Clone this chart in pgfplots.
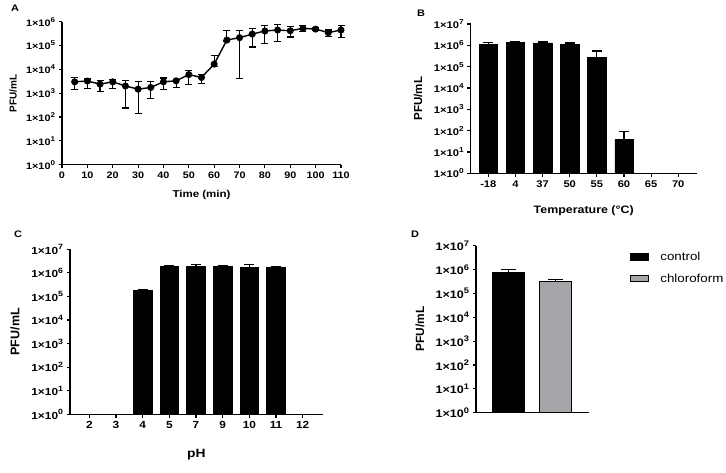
\documentclass[border=0pt]{standalone}
\usepackage{fontspec}
\setmainfont{Liberation Sans}[FakeStretch=1.15]
\newfontfamily\plainsans{Liberation Sans}
\usepackage{graphicx}
\usepackage{pgfplots}
\pgfplotsset{compat=1.18}
\definecolor{chlor}{RGB}{165,165,170}
\newcommand{\ex}[1]{1×10\raisebox{0.42em}{\scalebox{0.74}{#1}}}
\newcommand{\tf}[1]{\bfseries\fontsize{#1}{#1}\selectfont}
\newcommand{\yf}[1]{\plainsans\bfseries\fontsize{#1}{#1}\selectfont}

\pgfplotsset{
  panelstyle/.style={
    scale only axis, anchor=south west,
    axis x line*=bottom, axis y line*=left,
    axis line style={line width=1.1pt},
    every tick/.style={black, line width=1.1pt},
    tick align=outside, major tick length=3.5pt,
    ymin=1, yminorticks=false,
    ytick={1,10,100,1000,10000,100000,1000000,10000000},
    yticklabels={\ex{0},\ex{1},\ex{2},\ex{3},\ex{4},\ex{5},\ex{6},\ex{7}},
    /pgf/number format/assume math mode=true,
    ylabel={PFU/mL},
    clip=false,
  },
}

\pgfplotstableread{
t v ep em
5 3000 1500 1550
10 3240 690 1690
15 2400 1150 1200
20 3000 900 1450
25 2000 1550 1760
30 1480 1540 1340
35 1740 1280 1165
40 3000 1350 1550
45 3310 600 1570
50 6030 3300 3740
55 4570 1760 1990
60 16600 22300 3700
65 170000 247000 15000
70 214000 203000 210000
75 302000 238000 215000
80 407000 298000 287000
85 447000 298000 302000
90 417000 200000 188000
95 525000 180000 145000
100 490000 70000 45000
105 347000 100000 113000
110 447000 258000 233000
}\tabA

\pgfplotstableread{
x v ep
0 1.12e6 0.26e6
1 1.38e6 0.10e6
2 1.29e6 0.15e6
3 1.12e6 0.17e6
4 2.75e5 2.65e5
5 39 50
}\tabB

\pgfplotstableread{
x v ep
2 1.77e5 0.23e5
3 1.90e6 0.14e6
4 1.86e6 0.44e6
5 1.86e6 0.24e6
6 1.66e6 0.54e6
7 1.74e6 0.16e6
}\tabC

\begin{document}
\begin{tikzpicture}
\useasboundingbox (0pt,0pt) rectangle (726pt,472pt);

% Panel A
\begin{axis}[panelstyle, ymode=log, at={(62pt,307.3pt)}, width=279pt, height=143pt,
  xmin=0, xmax=110, xtick={0,10,...,110}, ymax=1e6,
  ticklabel style={font=\tf{9.4}},
  xlabel={Time (min)},
  xlabel style={font=\tf{10}, at={(axis description cs:0.5,0)}, anchor=center, yshift=-30.3pt},
  ylabel style={font=\yf{10}, at={(axis description cs:0,0.5)}, anchor=center, yshift=49pt},
]
\addplot[black, line width=1.4pt, mark=*, mark size=2.8pt,
  error bars/y dir=both, error bars/y explicit,
  error bars/error bar style={line width=1.1pt},
  error bars/error mark options={rotate=90, mark size=3.5pt, line width=1.1pt}]
  table[x=t, y=v, y error plus=ep, y error minus=em] {\tabA};
\end{axis}

% Panel B
\begin{axis}[panelstyle, ymode=log, at={(470.7pt,298.7pt)}, width=226pt, height=149.3pt,
  xmin=-0.65, xmax=7.68, ymax=1e7,
  xtick={0,...,7}, xticklabels={-18,4,37,50,55,60,65,70},
  ticklabel style={font=\tf{9.7}},
  xlabel={Temperature (°C)},
  xlabel style={font=\tf{10.8}, at={(axis description cs:0.5,0)}, anchor=center, yshift=-37.7pt},
  ylabel style={font=\yf{11.6}, at={(axis description cs:0,0.5)}, anchor=center, yshift=52.7pt},
]
\addplot[ybar, bar width=0.68, bar shift=0pt, fill=black, draw=black,
  error bars/y dir=plus, error bars/y explicit,
  error bars/error bar style={line width=1.1pt, black},
  error bars/error mark options={rotate=90, mark size=5pt, line width=1.1pt, black}]
  table[x=x, y=v, y error plus=ep] {\tabB};
\end{axis}

% Panel C
\begin{axis}[panelstyle, ymode=log, at={(70pt,57.7pt)}, width=252.7pt, height=165pt,
  xmin=-0.725, xmax=8.75, ymax=1e7,
  xtick={0,...,8}, xticklabels={2,3,4,5,7,9,10,11,12},
  ticklabel style={font=\tf{10.3}},
  xlabel={pH},
  xlabel style={font=\tf{12}, at={(axis description cs:0.5,0)}, anchor=center, yshift=-40.7pt},
  ylabel style={font=\yf{12.5}, at={(axis description cs:0,0.5)}, anchor=center, yshift=55pt},
]
\addplot[ybar, bar width=0.7, bar shift=0pt, fill=black, draw=black,
  error bars/y dir=plus, error bars/y explicit,
  error bars/error bar style={line width=1.1pt, black},
  error bars/error mark options={rotate=90, mark size=5pt, line width=1.1pt, black}]
  table[x=x, y=v, y error plus=ep] {\tabC};
\end{axis}

% Panel D
\begin{axis}[panelstyle, ymode=log, at={(476pt,59.3pt)}, width=113.3pt, height=167pt,
  xmin=-0.69, xmax=1.72, ymax=1e7, xtick=\empty,
  ticklabel style={font=\tf{10.9}},
  ylabel style={font=\yf{11.9}, at={(axis description cs:0,0.5)}, anchor=center, yshift=56pt},
  legend style={at={(axis description cs:1.36,0.975)}, anchor=north west,
    draw=none, fill=none, font=\fontsize{11.6}{12}\selectfont, row sep=8pt,
    inner sep=0pt, /tikz/every odd column/.append style={column sep=9pt}},
  legend cell align=left,
  legend image code/.code={\draw[#1, line width=1.1pt] (0pt,-3pt) rectangle (18pt,3pt);},
]
\addplot[ybar, bar width=0.67, bar shift=0pt, fill=black, draw=black, line width=1.1pt,
  error bars/y dir=plus, error bars/y explicit,
  error bars/error bar style={line width=1.1pt, black},
  error bars/error mark options={rotate=90, mark size=7.5pt, line width=1.1pt, black}]
  coordinates {(0,7.8e5) +- (0,2.4e5)};
\addlegendentry{control}
\addplot[ybar, bar width=0.67, bar shift=0pt, fill=chlor, draw=black, line width=1.1pt,
  error bars/y dir=plus, error bars/y explicit,
  error bars/error bar style={line width=1.1pt, black},
  error bars/error mark options={rotate=90, mark size=7.5pt, line width=1.1pt, black}]
  coordinates {(1,3.2e5) +- (0,0.65e5)};
\addlegendentry{chloroform}
\end{axis}

\node[font=\tf{9.5}] at (15pt,464pt) {A};
\node[font=\tf{9.5}] at (421pt,459pt) {B};
\node[font=\tf{9.5}] at (18pt,238pt) {C};
\node[font=\tf{9.5}] at (415pt,238pt) {D};
\end{tikzpicture}
\end{document}
